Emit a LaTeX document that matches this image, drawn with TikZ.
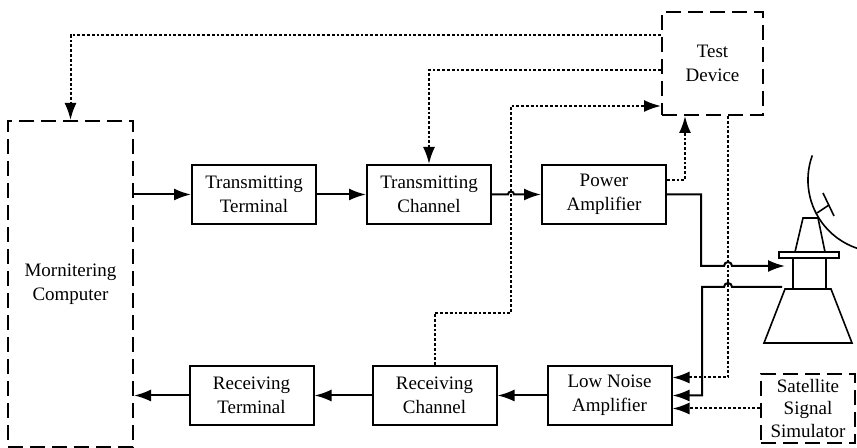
\documentclass[tikz,border=0pt]{standalone}
\usepackage{fontspec}
\setmainfont{Liberation Serif}
\usetikzlibrary{arrows.meta,positioning}

\tikzset{
  blk/.style={draw,line width=1pt,minimum width=62pt,minimum height=29.5pt,
    align=center,inner sep=0pt,font=\fontsize{9.5}{12}\selectfont},
  dbox/.style={draw,line width=1pt,dash pattern=on 7.5pt off 3.5pt,
    align=center,inner sep=0pt,font=\fontsize{9.5}{12}\selectfont},
  wire/.style={line width=1pt},
  sig/.style={line width=1pt,dash pattern=on 1.4pt off 1pt},
  horn/.style={line width=0.8pt}
}

\begin{document}
\begin{tikzpicture}[x=0.5pt,y=0.5pt,->,>={Latex[length=8.5pt,width=6pt]},
  node distance=87.5pt,line join=miter]
\useasboundingbox (0,0) rectangle (857,448);

% transmit row
\node[dbox,minimum width=62.5pt,minimum height=163pt](mc) at (70.5,164){Mornitering\\Computer};
\node[blk](tt) at (254,253.5){Transmitting\\Terminal};
\node[blk](tc)[right of=tt]{Transmitting\\Channel};
\node[blk](pa)[right of=tc]{Power\\Amplifier};

% receive row
\node[blk](lna) at (609.5,52.5){Low Noise\\Amplifier};
\node[blk](rc)[left of=lna]{Receiving\\Channel};
\node[blk](rt)[left of=rc,xshift=-4pt]{Receiving\\Terminal};

% test equipment
\node[dbox,minimum width=50.5pt,minimum height=51.5pt](td) at (712.5,384.5){Test\\Device};
\node[dbox,minimum width=47pt,minimum height=34.5pt,
  font=\fontsize{9.5}{11.25}\selectfont](sss) at (808,39.5){Satellite\\Signal\\Simulator};

% antenna feed
\coordinate (hornin) at (785,182);
\coordinate (hornout) at (782,161);
\begin{scope}[-,horn]
\draw (803,230) -- (818,230) -- (825,196) -- (795,196) -- cycle;
\draw (779,190) rectangle (839,196);
\draw (793,159) rectangle (826,190);
\draw (785,159) -- (831,159) -- (852,105) -- (764,105) -- cycle;
\draw (812.3,292.6) arc[start angle=160,end angle=256,radius=36pt];
\draw (817,235) -- (829,243);
\draw (823,255) -- (834,232);
\end{scope}

% signal chain
\draw[wire] (tt.west -| mc.east) -- (tt.west);
\draw[wire] (tt) -- (tc);
\draw[wire] (tc.east) -- (508,253.5) arc[start angle=180,end angle=0,radius=1.5pt] -- (pa.west);
\draw[wire] (pa.east) -- (701,253.5) -- (701,182) -- (724,182)
  arc[start angle=180,end angle=0,radius=2pt] -- (hornin);
\draw[wire] (hornout) -- (732,161) arc[start angle=0,end angle=180,radius=2pt]
  -- (702,161) |- (lna.east);
\draw[wire] (lna) -- (rc);
\draw[wire] (rc) -- (rt);
\draw[wire] (rt.west) -- (rt.west -| mc.east);

% monitoring links
\draw[sig] ([yshift=-12pt]td.north west) -| (mc.north);
\draw[sig] ([yshift=-29.5pt]td.north west) -| (tc.north);
\draw[sig] (rc.north) |- (511,135) |- ([yshift=5pt]td.south west);
\draw[sig] ([yshift=-8pt]pa.north east) -| ([xshift=-13.75pt]td.south);
\draw[sig] ([xshift=7.75pt]td.south) |- ([yshift=9pt]lna.east);
\draw[sig] (sss.west) -- (sss.west -| lna.east);

\end{tikzpicture}
\end{document}
